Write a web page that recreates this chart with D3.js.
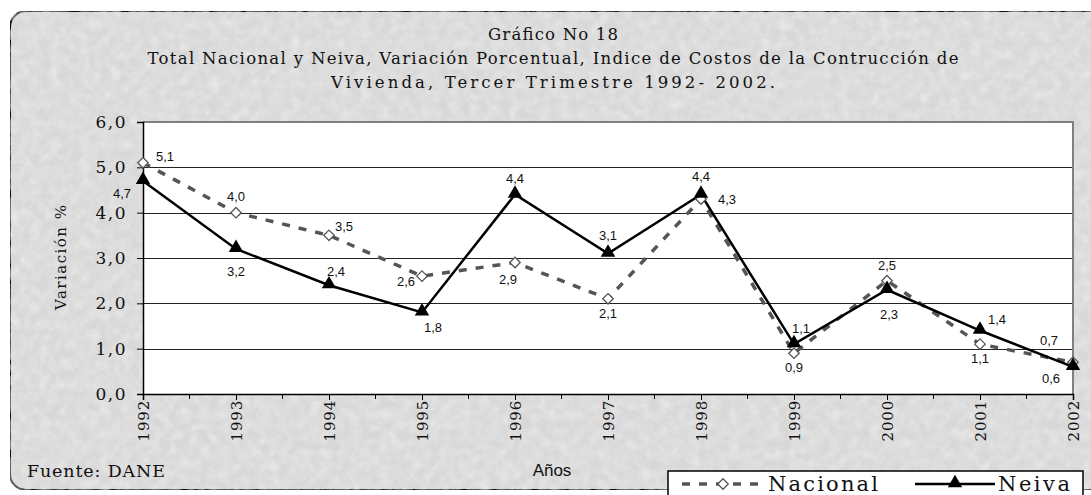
<!DOCTYPE html>
<html>
<head>
<meta charset="utf-8">
<script src="https://cdn.jsdelivr.net/npm/d3@7"></script>
<style>
  html, body { margin: 0; padding: 0; background: #fff; }
  svg { display: block; }
</style>
</head>
<body>
<div id="chart"></div>
<script>
const years = ["1992","1993","1994","1995","1996","1997","1998","1999","2000","2001","2002"];
const nacional = [5.1, 4.0, 3.5, 2.6, 2.9, 2.1, 4.3, 0.9, 2.5, 1.1, 0.7];
const neiva = [4.7, 3.2, 2.4, 1.8, 4.4, 3.1, 4.4, 1.1, 2.3, 1.4, 0.6];
const yTicks = [0, 1, 2, 3, 4, 5, 6];
const titleLines = [
  "Gráfico No 18",
  "Total Nacional y Neiva, Variación Porcentual, Indice de Costos de la Contrucción de",
  "Vivienda, Tercer Trimestre 1992- 2002."
];

// label nudges (px) relative to each marker
const nacionalOff = [[22,-6],[0,-16],[15,-9],[-16,5],[-7,17],[0,15],[26,0],[0,14],[0,-15],[0,14],[-24,-22]];
const neivaOff = [[-21,13],[0,23],[7,-14],[11,15],[0,-16],[0,-18],[0,-18],[7,-16],[2,25],[17,-11],[-22,12]];

const W = 1091, H = 495;
const margin = {left: 143, right: 18, top: 122, bottom: 101};
const serif = "'DejaVu Serif', serif";
const sans = "'Liberation Sans', Arial, sans-serif";

const svg = d3.select("#chart").append("svg")
  .attr("width", W).attr("height", H);

const defs = svg.append("defs");
const filt = defs.append("filter").attr("id", "paper")
  .attr("x", 0).attr("y", 0).attr("width", "100%").attr("height", "100%");
filt.append("feTurbulence").attr("type", "fractalNoise")
  .attr("baseFrequency", 0.1).attr("numOctaves", 4).attr("seed", 7).attr("result", "n");
filt.append("feColorMatrix").attr("in", "n").attr("type", "matrix")
  .attr("values", "0 0 0 0 1  0 0 0 0 1  0 0 0 0 1  0.35 0.35 0.35 0 -0.42")
  .attr("result", "spots");
filt.append("feComposite").attr("in", "spots").attr("in2", "SourceGraphic").attr("operator", "atop");

// background card
svg.append("rect")
  .attr("x", 10).attr("y", 11).attr("width", W + 20).attr("height", 479)
  .attr("rx", 16).attr("ry", 16)
  .attr("fill", "#d8d8d8").attr("stroke", "#111").attr("stroke-width", 2)
  .attr("filter", "url(#paper)");

const x = d3.scalePoint().domain(years).range([margin.left, W - margin.right]);
const y = d3.scaleLinear().domain([0, 6]).range([H - margin.bottom, margin.top]);

// plot area
svg.append("rect")
  .attr("x", margin.left).attr("y", margin.top)
  .attr("width", x.range()[1] - margin.left).attr("height", y(0) - margin.top)
  .attr("fill", "#fff");

// gridlines
svg.append("g").selectAll("line")
  .data(yTicks.filter(d => d > 0 && d < 6))
  .join("line")
  .attr("x1", margin.left).attr("x2", x.range()[1])
  .attr("y1", d => Math.round(y(d)) + 0.5).attr("y2", d => Math.round(y(d)) + 0.5)
  .attr("stroke", "#222").attr("stroke-width", 1);

// plot border (top / right, grey)
svg.append("path")
  .attr("d", `M${margin.left},${margin.top}H${x.range()[1]}V${y(0)}`)
  .attr("fill", "none").attr("stroke", "#808080").attr("stroke-width", 2);

// y axis
const yAxis = svg.append("g")
  .attr("transform", `translate(${margin.left},0)`)
  .call(d3.axisLeft(y).tickValues(yTicks).tickSize(6).tickPadding(10)
    .tickFormat(d => d3.format(".1f")(d).replace(".", ",")));
yAxis.select(".domain").attr("stroke", "#000").attr("stroke-width", 1.5);
yAxis.selectAll(".tick line").attr("stroke", "#000");
yAxis.selectAll(".tick text")
  .attr("font-family", serif).attr("font-size", 17).attr("fill", "#111")
  .attr("letter-spacing", 1.5);

// x axis
const xAxis = svg.append("g")
  .attr("transform", `translate(0,${y(0)})`)
  .call(d3.axisBottom(x).tickSize(6).tickPadding(4));
xAxis.select(".domain").attr("stroke", "#000").attr("stroke-width", 1.5);
xAxis.selectAll(".tick line").attr("stroke", "#000");
xAxis.selectAll(".tick text")
  .attr("font-family", serif).attr("font-size", 15).attr("fill", "#111")
  .attr("letter-spacing", 0.8)
  .attr("transform", "rotate(-90)")
  .attr("text-anchor", "end").attr("dy", "0.35em")
  .attr("x", -6).attr("y", 0);

// minor ticks halfway between categories
const step = x.step();
svg.append("g").selectAll("line")
  .data(years.slice(1))
  .join("line")
  .attr("x1", d => x(d) - step / 2).attr("x2", d => x(d) - step / 2)
  .attr("y1", y(0)).attr("y2", y(0) + 5)
  .attr("stroke", "#000");

// lines
const line = data => d3.line()
  .x((d, i) => x(years[i])).y(d => y(d))(data);

svg.append("path").attr("d", line(nacional))
  .attr("fill", "none").attr("stroke", "#555").attr("stroke-width", 3.5)
  .attr("stroke-dasharray", "8,9");
svg.append("path").attr("d", line(neiva))
  .attr("fill", "none").attr("stroke", "#000").attr("stroke-width", 2.5);

// markers
const diamond = d3.symbol().type(d3.symbolDiamond2).size(70);
const tri = d3.symbol().type(d3.symbolTriangle).size(90);
svg.append("g").selectAll("path").data(nacional).join("path")
  .attr("d", diamond)
  .attr("transform", (d, i) => `translate(${x(years[i])},${y(d)})`)
  .attr("fill", "#fff").attr("stroke", "#555").attr("stroke-width", 1.3);
svg.append("g").selectAll("path").data(neiva).join("path")
  .attr("d", tri)
  .attr("transform", (d, i) => `translate(${x(years[i])},${y(d) - 1})`)
  .attr("fill", "#000");

// data labels
function labels(data, off) {
  svg.append("g").selectAll("text").data(data).join("text")
    .attr("x", (d, i) => x(years[i]) + off[i][0])
    .attr("y", (d, i) => y(d) + off[i][1])
    .attr("dy", "0.35em")
    .attr("text-anchor", "middle")
    .attr("font-family", sans)
    .attr("font-size", 13).attr("fill", "#111")
    .text(d => d3.format(".1f")(d).replace(".", ","));
}
labels(nacional, nacionalOff);
labels(neiva, neivaOff);

// titles
const titleWidths = [130, 811, 444];
svg.append("g").selectAll("text").data(titleLines).join("text")
  .attr("x", (d, i) => 553 - titleWidths[i] / 2).attr("y", (d, i) => 40 + i * 24)
  .attr("textLength", (d, i) => titleWidths[i]).attr("lengthAdjust", "spacing")
  .attr("font-family", serif).attr("font-size", 16.5)
  .attr("fill", "#111")
  .text(d => d);

// axis titles
svg.append("text")
  .attr("transform", `translate(66,${(y(0) + y(6)) / 2}) rotate(-90)`)
  .attr("x", -52).attr("textLength", 105).attr("lengthAdjust", "spacing")
  .attr("font-family", serif).attr("font-size", 15)
  .attr("fill", "#111").text("Variación %");
svg.append("text")
  .attr("x", 552).attr("y", 476).attr("text-anchor", "middle")
  .attr("font-family", sans).attr("font-size", 17)
  .attr("fill", "#111").text("Años");
svg.append("text")
  .attr("x", 27).attr("y", 477)
  .attr("textLength", 138).attr("lengthAdjust", "spacing")
  .attr("font-family", serif).attr("font-size", 17.5)
  .attr("fill", "#111").text("Fuente: DANE");

// legend
const lg = svg.append("g").attr("transform", "translate(668,471)");
lg.append("rect").attr("width", 415).attr("height", 30)
  .attr("fill", "#fff").attr("stroke", "#000").attr("stroke-width", 1.5);
lg.append("line").attr("x1", 14).attr("x2", 96).attr("y1", 13).attr("y2", 13)
  .attr("stroke", "#555").attr("stroke-width", 3.5).attr("stroke-dasharray", "8,9");
lg.append("path").attr("d", diamond).attr("transform", "translate(55,13)")
  .attr("fill", "#fff").attr("stroke", "#555").attr("stroke-width", 1.3);
lg.append("text").attr("x", 100).attr("y", 20)
  .attr("textLength", 110).attr("lengthAdjust", "spacing")
  .attr("font-family", serif).attr("font-size", 21)
  .attr("fill", "#111").text("Nacional");
lg.append("line").attr("x1", 247).attr("x2", 327).attr("y1", 13).attr("y2", 13)
  .attr("stroke", "#000").attr("stroke-width", 2.5);
lg.append("path").attr("d", tri).attr("transform", "translate(287,12)").attr("fill", "#000");
lg.append("text").attr("x", 330).attr("y", 20)
  .attr("textLength", 72).attr("lengthAdjust", "spacing")
  .attr("font-family", serif).attr("font-size", 21)
  .attr("fill", "#111").text("Neiva");
</script>
</body>
</html>
